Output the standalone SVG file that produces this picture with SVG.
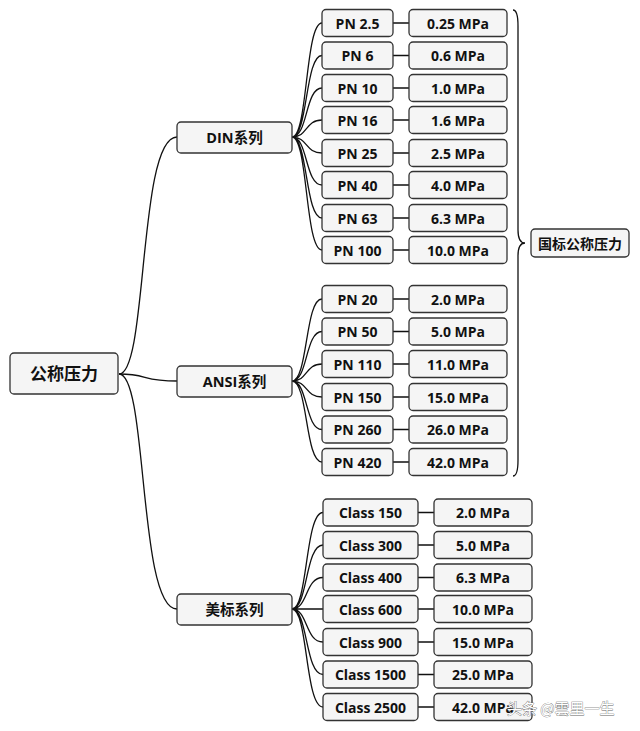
<svg xmlns="http://www.w3.org/2000/svg" width="640" height="731" viewBox="0 0 640 731">
<style>
.b{fill:#f5f5f5;stroke:#333;stroke-width:1.3}
.t{font-family:"Open Sans","Noto Sans","Noto Sans CJK SC",sans-serif;font-weight:bold;font-size:14px;fill:#111;text-anchor:middle;dominant-baseline:central}
.g{font-size:14.5px}
.r{font-size:17px}
.c{fill:none;stroke:#111;stroke-width:1.3}
.wm{font-family:"Noto Sans CJK SC",sans-serif;font-size:15px;fill:#fff;stroke:#666;stroke-width:0.7;paint-order:stroke}
</style>
<rect width="640" height="731" fill="#fff"/>
<g id="connectors">
<path class="c" d="M119,374 C148,374 138,137 177,137"/>
<path class="c" d="M119,374 C148,374 142,381 177,381"/>
<path class="c" d="M119,374 C148,374 138,609 177,609"/>
<path class="c" d="M292,137 C308,137 305,23 322,23 M292,137 C308,137 305,55.5 322,55.5 M292,137 C308,137 305,88 322,88 M292,137 C308,137 305,120 322,120 M292,137 C308,137 305,153 322,153 M292,137 C308,137 305,185 322,185 M292,137 C308,137 305,218 322,218 M292,137 C308,137 305,250 322,250"/>
<path class="c" d="M292,381 C308,381 305,299 322,299 M292,381 C308,381 305,331.5 322,331.5 M292,381 C308,381 305,364 322,364 M292,381 C308,381 305,397 322,397 M292,381 C308,381 305,429.5 322,429.5 M292,381 C308,381 305,462 322,462"/>
<path class="c" d="M292,609 C308,609 305,512.5 323,512.5 M292,609 C308,609 305,545 323,545 M292,609 C308,609 305,577.5 323,577.5 M292,609 C308,609 305,609 323,609 M292,609 C308,609 305,642 323,642 M292,609 C308,609 305,674.5 323,674.5 M292,609 C308,609 305,707 323,707"/>
<path class="c" d="M393,23H409M393,55.5H409M393,88H409M393,120H409M393,153H409M393,185H409M393,218H409M393,250H409"/>
<path class="c" d="M393,299H409M393,331.5H409M393,364H409M393,397H409M393,429.5H409M393,462H409"/>
<path class="c" d="M418,512.5H434M418,545H434M418,577.5H434M418,609H434M418,642H434M418,674.5H434M418,707H434"/>
<path class="c" d="M513,10 Q518,10 518,26 L518,230 Q518,243 525,243 Q518,243 518,256 L518,460 Q518,476 513,476" stroke-width="1.5"/>
</g>
<g id="root"><rect class="b" x="10" y="353" width="108" height="41" rx="4"/><text class="t r" x="64" y="373.5">公称压力</text></g>
<g id="din"><rect class="b" x="177" y="122" width="115" height="31" rx="4"/><text class="t g" x="234.5" y="137.5">DIN系列</text></g>
<g id="ansi"><rect class="b" x="177" y="366" width="115" height="31" rx="4"/><text class="t g" x="234.5" y="381.5">ANSI系列</text></g>
<g id="us"><rect class="b" x="177" y="594" width="115" height="31" rx="4"/><text class="t g" x="234.5" y="609.5">美标系列</text></g>
<g id="gb"><rect class="b" x="531" y="229" width="98" height="28" rx="4"/><text class="t" x="580" y="243">国标公称压力</text></g>
<g id="din-items">
<g id="pn2_5"><rect class="b" x="322" y="9.5" width="71" height="27" rx="4"/><text class="t" x="357.5" y="23">PN 2.5</text><rect class="b" x="409" y="9.5" width="98" height="27" rx="4"/><text class="t" x="458" y="23">0.25 MPa</text></g>
<g id="pn6"><rect class="b" x="322" y="42" width="71" height="27" rx="4"/><text class="t" x="357.5" y="55.5">PN 6</text><rect class="b" x="409" y="42" width="98" height="27" rx="4"/><text class="t" x="458" y="55.5">0.6 MPa</text></g>
<g id="pn10"><rect class="b" x="322" y="74.5" width="71" height="27" rx="4"/><text class="t" x="357.5" y="88">PN 10</text><rect class="b" x="409" y="74.5" width="98" height="27" rx="4"/><text class="t" x="458" y="88">1.0 MPa</text></g>
<g id="pn16"><rect class="b" x="322" y="106.5" width="71" height="27" rx="4"/><text class="t" x="357.5" y="120">PN 16</text><rect class="b" x="409" y="106.5" width="98" height="27" rx="4"/><text class="t" x="458" y="120">1.6 MPa</text></g>
<g id="pn25"><rect class="b" x="322" y="139.5" width="71" height="27" rx="4"/><text class="t" x="357.5" y="153">PN 25</text><rect class="b" x="409" y="139.5" width="98" height="27" rx="4"/><text class="t" x="458" y="153">2.5 MPa</text></g>
<g id="pn40"><rect class="b" x="322" y="171.5" width="71" height="27" rx="4"/><text class="t" x="357.5" y="185">PN 40</text><rect class="b" x="409" y="171.5" width="98" height="27" rx="4"/><text class="t" x="458" y="185">4.0 MPa</text></g>
<g id="pn63"><rect class="b" x="322" y="204.5" width="71" height="27" rx="4"/><text class="t" x="357.5" y="218">PN 63</text><rect class="b" x="409" y="204.5" width="98" height="27" rx="4"/><text class="t" x="458" y="218">6.3 MPa</text></g>
<g id="pn100"><rect class="b" x="322" y="236.5" width="71" height="27" rx="4"/><text class="t" x="357.5" y="250">PN 100</text><rect class="b" x="409" y="236.5" width="98" height="27" rx="4"/><text class="t" x="458" y="250">10.0 MPa</text></g>
</g>
<g id="ansi-items">
<g id="pn20"><rect class="b" x="322" y="285.5" width="71" height="27" rx="4"/><text class="t" x="357.5" y="299">PN 20</text><rect class="b" x="409" y="285.5" width="98" height="27" rx="4"/><text class="t" x="458" y="299">2.0 MPa</text></g>
<g id="pn50"><rect class="b" x="322" y="318" width="71" height="27" rx="4"/><text class="t" x="357.5" y="331.5">PN 50</text><rect class="b" x="409" y="318" width="98" height="27" rx="4"/><text class="t" x="458" y="331.5">5.0 MPa</text></g>
<g id="pn110"><rect class="b" x="322" y="350.5" width="71" height="27" rx="4"/><text class="t" x="357.5" y="364">PN 110</text><rect class="b" x="409" y="350.5" width="98" height="27" rx="4"/><text class="t" x="458" y="364">11.0 MPa</text></g>
<g id="pn150"><rect class="b" x="322" y="383.5" width="71" height="27" rx="4"/><text class="t" x="357.5" y="397">PN 150</text><rect class="b" x="409" y="383.5" width="98" height="27" rx="4"/><text class="t" x="458" y="397">15.0 MPa</text></g>
<g id="pn260"><rect class="b" x="322" y="416" width="71" height="27" rx="4"/><text class="t" x="357.5" y="429.5">PN 260</text><rect class="b" x="409" y="416" width="98" height="27" rx="4"/><text class="t" x="458" y="429.5">26.0 MPa</text></g>
<g id="pn420"><rect class="b" x="322" y="448.5" width="71" height="27" rx="4"/><text class="t" x="357.5" y="462">PN 420</text><rect class="b" x="409" y="448.5" width="98" height="27" rx="4"/><text class="t" x="458" y="462">42.0 MPa</text></g>
</g>
<g id="us-items">
<g id="c150"><rect class="b" x="323" y="499" width="95" height="27" rx="4"/><text class="t" x="370.5" y="512.5">Class 150</text><rect class="b" x="434" y="499" width="98" height="27" rx="4"/><text class="t" x="483" y="512.5">2.0 MPa</text></g>
<g id="c300"><rect class="b" x="323" y="531.5" width="95" height="27" rx="4"/><text class="t" x="370.5" y="545">Class 300</text><rect class="b" x="434" y="531.5" width="98" height="27" rx="4"/><text class="t" x="483" y="545">5.0 MPa</text></g>
<g id="c400"><rect class="b" x="323" y="564" width="95" height="27" rx="4"/><text class="t" x="370.5" y="577.5">Class 400</text><rect class="b" x="434" y="564" width="98" height="27" rx="4"/><text class="t" x="483" y="577.5">6.3 MPa</text></g>
<g id="c600"><rect class="b" x="323" y="595.5" width="95" height="27" rx="4"/><text class="t" x="370.5" y="609">Class 600</text><rect class="b" x="434" y="595.5" width="98" height="27" rx="4"/><text class="t" x="483" y="609">10.0 MPa</text></g>
<g id="c900"><rect class="b" x="323" y="628.5" width="95" height="27" rx="4"/><text class="t" x="370.5" y="642">Class 900</text><rect class="b" x="434" y="628.5" width="98" height="27" rx="4"/><text class="t" x="483" y="642">15.0 MPa</text></g>
<g id="c1500"><rect class="b" x="323" y="661" width="95" height="27" rx="4"/><text class="t" x="370.5" y="674.5">Class 1500</text><rect class="b" x="434" y="661" width="98" height="27" rx="4"/><text class="t" x="483" y="674.5">25.0 MPa</text></g>
<g id="c2500"><rect class="b" x="323" y="693.5" width="95" height="27" rx="4"/><text class="t" x="370.5" y="707">Class 2500</text><rect class="b" x="434" y="693.5" width="98" height="27" rx="4"/><text class="t" x="483" y="707">42.0 MPa</text></g>
</g>
<text class="wm" x="507" y="714">头条 @雲里一生</text>
</svg>
